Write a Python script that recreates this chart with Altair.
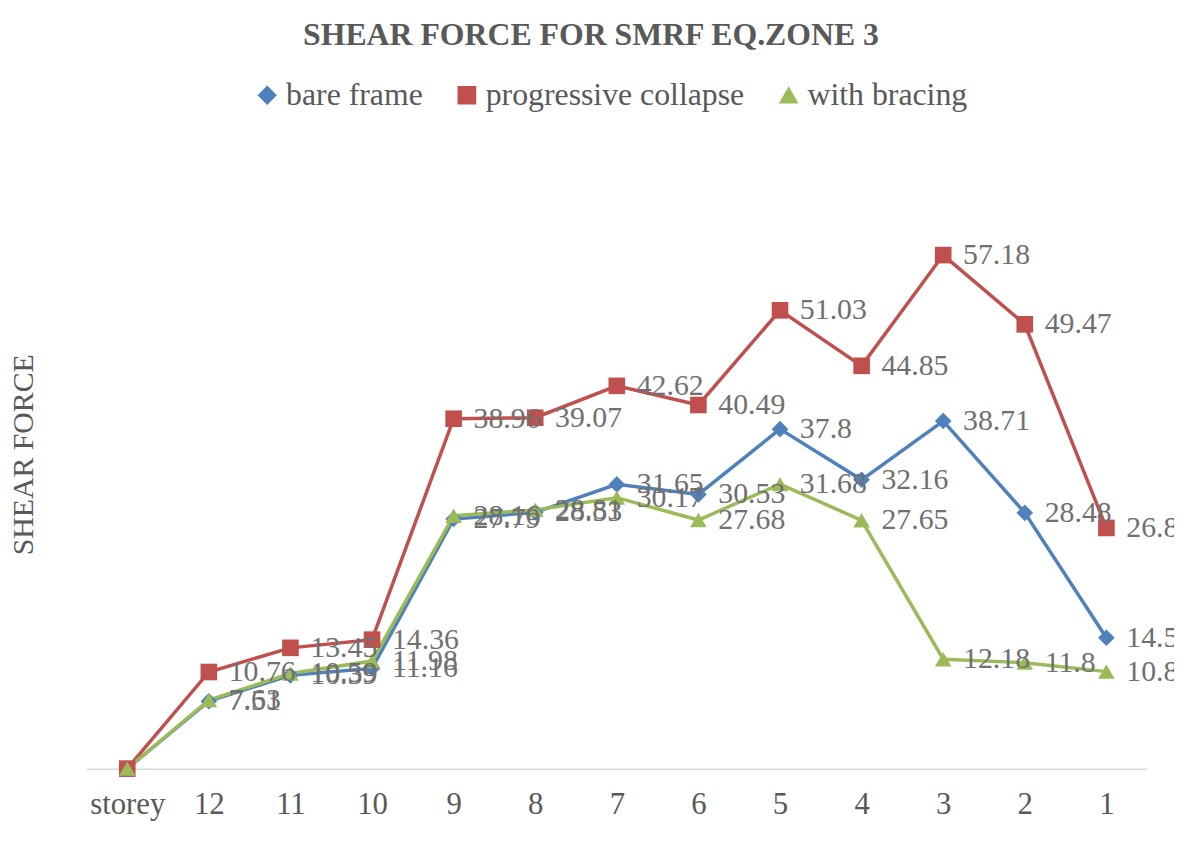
import altair as alt
import pandas as pd

storeys = ["storey", "12", "11", "10", "9", "8", "7", "6", "5", "4", "3", "2", "1"]
bare_frame = [0, 7.51, 10.39, 11.16, 27.79, 28.53, 31.65, 30.53, 37.8, 32.16, 38.71, 28.48, 14.58]
progressive_collapse = [0, 10.76, 13.45, 14.36, 38.96, 39.07, 42.62, 40.49, 51.03, 44.85, 57.18, 49.47, 26.8]
with_bracing = [0, 7.63, 10.59, 11.98, 28.16, 28.81, 30.17, 27.68, 31.68, 27.65, 12.18, 11.8, 10.8]

series_names = ["bare frame", "progressive collapse", "with bracing"]
series_values = [bare_frame, progressive_collapse, with_bracing]
colors = ["#4F81BD", "#C0504D", "#9BBB59"]
shapes = ["diamond", "square", "triangle-up"]

rows = []
for name, vals in zip(series_names, series_values):
    for i, (s, v) in enumerate(zip(storeys, vals)):
        rows.append({"storey": s, "value": v, "series": name, "order": i,
                     "label": "" if v == 0 else f"{v:g}"})
df = pd.DataFrame(rows)

FONT = "Liberation Serif"

x_enc = alt.X("storey:N", sort=storeys,
              scale=alt.Scale(type="point", padding=0.5),
              axis=alt.Axis(title=None, labelAngle=0, ticks=False, grid=False,
                            domainColor="#d9d9d9", domainWidth=1.5,
                            labelFont=FONT, labelFontSize=31, labelColor="#595959",
                            labelPadding=21))
y_enc = alt.Y("value:Q", scale=alt.Scale(domain=[0, 70], nice=False, zero=True),
              axis=alt.Axis(title="SHEAR FORCE", labels=False, ticks=False, grid=False,
                            domain=False, titleFont=FONT, titleFontSize=30,
                            titleFontWeight="normal", titleColor="#595959",
                            titlePadding=48))
color_scale = alt.Scale(domain=series_names, range=colors)
shape_scale = alt.Scale(domain=series_names, range=shapes)

base = alt.Chart(df)

lines = base.mark_line(strokeWidth=3.5).encode(
    x=x_enc, y=y_enc,
    color=alt.Color("series:N", scale=color_scale),
    detail="series:N",
    order="order:Q",
)

points = base.mark_point(filled=True, opacity=1, size=280).encode(
    x=x_enc, y=y_enc,
    color=alt.Color("series:N", scale=color_scale,
                    legend=alt.Legend(title=None, orient="none", direction="horizontal",
                                      legendX=166, legendY=-61)),
    shape=alt.Shape("series:N", scale=shape_scale,
                    legend=alt.Legend(title=None, orient="none", direction="horizontal",
                                      legendX=166, legendY=-61)),
)

labels = base.mark_text(align="left", baseline="middle", dx=20, font=FONT,
                        fontSize=30, color="#707070").encode(
    x=x_enc, y=y_enc, text="label:N",
)

chart = alt.layer(lines, points, labels).properties(
    width=1068, height=633,
    title=alt.TitleParams("SHEAR FORCE FOR SMRF EQ.ZONE 3", font=FONT, fontSize=32,
                          fontWeight="bold", color="#595959", anchor="middle",
                          dx=-26, offset=28),
    autosize=alt.AutoSizeParams(type="none"),
    padding={"left": 79, "top": 130, "right": 27, "bottom": 70},
).configure(background="white").configure_view(stroke=None).configure_legend(
    labelFont=FONT, labelFontSize=32, labelColor="#595959", symbolSize=300,
    columnPadding=28, labelOffset=3, labelLimit=400,
)

chart.save("out.html", embed_options={"renderer": "svg", "actions": False})
